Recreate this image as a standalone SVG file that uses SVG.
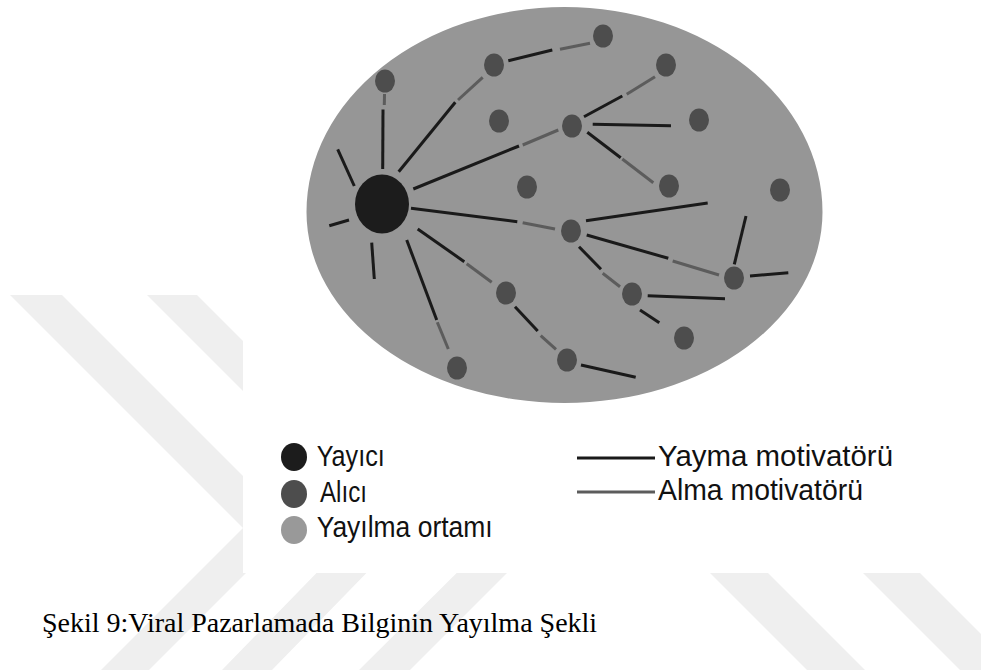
<svg xmlns="http://www.w3.org/2000/svg" width="981" height="670" viewBox="0 0 981 670">
  <style>
    .wm { fill: #efefef; }
    .medium { fill: #969696; }
    .sender { fill: #1c1c1c; }
    .receiver { fill: #4d4d4d; }
    .push { stroke: #1a1a1a; stroke-width: 3; stroke-linecap: butt; fill: none; }
    .pull { stroke: #5c5c5c; stroke-width: 3; stroke-linecap: butt; fill: none; }
    .lbl { font-family: "Liberation Sans", Arial, sans-serif; font-size: 29px; fill: #111; }
    .cap { font-family: "Liberation Serif", "Times New Roman", serif; font-size: 28px; fill: #000; }
  </style>

  <!-- page background and faint chevron watermark -->
  <rect x="0" y="0" width="981" height="670" fill="#ffffff"/>
  <g id="watermark">
    <polygon class="wm" points="10,295 62,295 293,526 149,670 101,670 243,528"/>
    <polygon class="wm" points="147,295 197,295 420,518 272,670 222,670 370,518"/>
    <polygon class="wm" points="283,295 333,295 559,521 410,670 359,670 509,521"/>
    <polygon class="wm" points="697,560 755,560 865,670 807,670"/>
    <polygon class="wm" points="850,560 907,560 1017,670 960,670"/>
  </g>
  <!-- white figure panel -->
  <rect x="243" y="0" width="738" height="573" fill="#ffffff"/>

  <!-- spreading medium -->
  <path id="medium" class="medium" d="M 306.5 212 A 258 205 0 0 1 564.5 7 A 258 205 0 0 1 822.5 212 A 258 191 0 0 1 564.5 403 A 258 191 0 0 1 306.5 212 Z"/>

  <!-- connectors: dark part = spreading motivator, grey part = receiving motivator -->
  <g id="connectors">
    <line class="push" x1="382.7" y1="169" x2="383" y2="109.5"/>
    <line class="pull" x1="384.3" y1="105" x2="384.5" y2="94"/>
    <line class="push" x1="398.7" y1="171.7" x2="455.3" y2="102.3"/>
    <line class="pull" x1="458" y1="100" x2="482.7" y2="77.3"/>
    <line class="push" x1="508.3" y1="60.7" x2="552.3" y2="50"/>
    <line class="pull" x1="560" y1="49.3" x2="590" y2="43.3"/>
    <line class="push" x1="413.3" y1="189" x2="519" y2="146"/>
    <line class="pull" x1="522.7" y1="145" x2="558.3" y2="130"/>
    <line class="push" x1="337.7" y1="149.3" x2="354.3" y2="186"/>
    <line class="push" x1="329.3" y1="225.7" x2="349" y2="220"/>
    <line class="push" x1="371.7" y1="242.7" x2="374.3" y2="279"/>
    <line class="push" x1="411" y1="208.3" x2="517.3" y2="221.7"/>
    <line class="pull" x1="522.7" y1="222.7" x2="555" y2="229"/>
    <line class="push" x1="417.7" y1="229" x2="464.3" y2="261.7"/>
    <line class="pull" x1="466.7" y1="263.7" x2="491.7" y2="282.3"/>
    <line class="push" x1="406.7" y1="240" x2="436.7" y2="320"/>
    <line class="pull" x1="437.3" y1="322.3" x2="448.3" y2="349"/>
    <line class="push" x1="515" y1="306.7" x2="537.7" y2="331"/>
    <line class="pull" x1="540.7" y1="335.7" x2="556" y2="349.3"/>
    <line class="push" x1="581" y1="365" x2="635.7" y2="377.3"/>
    <line class="push" x1="584" y1="116.7" x2="622.3" y2="96"/>
    <line class="pull" x1="626.7" y1="94.3" x2="655" y2="76.7"/>
    <line class="push" x1="592.7" y1="124.3" x2="671" y2="125.7"/>
    <line class="push" x1="587.3" y1="132.3" x2="620.7" y2="157.7"/>
    <line class="pull" x1="622.3" y1="159" x2="653.3" y2="182.7"/>
    <line class="push" x1="586" y1="220.7" x2="707.7" y2="203"/>
    <line class="push" x1="586.7" y1="235" x2="668.3" y2="258.3"/>
    <line class="pull" x1="672.7" y1="261" x2="719" y2="275"/>
    <line class="push" x1="746" y1="216" x2="734.3" y2="264.3"/>
    <line class="push" x1="750" y1="276" x2="788.3" y2="272.7"/>
    <line class="push" x1="579" y1="246.7" x2="601" y2="269.3"/>
    <line class="pull" x1="602.7" y1="273.3" x2="620" y2="286.7"/>
    <line class="push" x1="647.7" y1="295.7" x2="725" y2="298.7"/>
    <line class="push" x1="640" y1="310" x2="659.3" y2="322.7"/>
  </g>

  <!-- sender -->
  <g id="sender"><ellipse class="sender" cx="382" cy="204" rx="27" ry="29.5"/></g>

  <!-- receivers -->
  <g id="r1"><ellipse class="receiver" cx="385" cy="81" rx="10" ry="11.5"/></g>
  <g id="r2"><ellipse class="receiver" cx="494" cy="65" rx="10" ry="11.5"/></g>
  <g id="r3"><ellipse class="receiver" cx="603" cy="36" rx="10" ry="11.5"/></g>
  <g id="r4"><ellipse class="receiver" cx="666" cy="65" rx="10" ry="11.5"/></g>
  <g id="r5"><ellipse class="receiver" cx="499" cy="121" rx="10" ry="11.5"/></g>
  <g id="r6"><ellipse class="receiver" cx="572" cy="126" rx="10" ry="11.5"/></g>
  <g id="r7"><ellipse class="receiver" cx="699" cy="120" rx="10" ry="11.5"/></g>
  <g id="r8"><ellipse class="receiver" cx="527" cy="187" rx="10" ry="11.5"/></g>
  <g id="r9"><ellipse class="receiver" cx="669" cy="186" rx="10" ry="11.5"/></g>
  <g id="r10"><ellipse class="receiver" cx="780" cy="190" rx="10" ry="11.5"/></g>
  <g id="r11"><ellipse class="receiver" cx="571" cy="231" rx="10" ry="11.5"/></g>
  <g id="r12"><ellipse class="receiver" cx="506" cy="293" rx="10" ry="11.5"/></g>
  <g id="r13"><ellipse class="receiver" cx="632" cy="294" rx="10" ry="11.5"/></g>
  <g id="r14"><ellipse class="receiver" cx="734" cy="278" rx="10" ry="11.5"/></g>
  <g id="r15"><ellipse class="receiver" cx="684" cy="338" rx="10" ry="11.5"/></g>
  <g id="r16"><ellipse class="receiver" cx="457" cy="368" rx="10" ry="11.5"/></g>
  <g id="r17"><ellipse class="receiver" cx="567" cy="360" rx="10" ry="11.5"/></g>

  <!-- legend -->
  <g id="legend">
    <ellipse class="sender" cx="294" cy="457" rx="13" ry="14"/>
    <text class="lbl" x="316.7" y="466" textLength="68" lengthAdjust="spacingAndGlyphs">Yayıcı</text>
    <ellipse class="receiver" cx="294" cy="494" rx="13" ry="14"/>
    <text class="lbl" x="320" y="502" textLength="47" lengthAdjust="spacingAndGlyphs">Alıcı</text>
    <ellipse fill="#999999" cx="294" cy="530" rx="13" ry="14"/>
    <text class="lbl" x="316.7" y="537" textLength="176" lengthAdjust="spacingAndGlyphs">Yayılma ortamı</text>
    <line class="push" x1="577" y1="458" x2="655" y2="458"/>
    <text class="lbl" x="658" y="466" textLength="235" lengthAdjust="spacingAndGlyphs">Yayma motivatörü</text>
    <line class="pull" x1="577" y1="492" x2="655" y2="492"/>
    <text class="lbl" x="658" y="500" textLength="205" lengthAdjust="spacingAndGlyphs">Alma motivatörü</text>
  </g>

  <text class="cap" x="42" y="632">Şekil 9:Viral Pazarlamada Bilginin Yayılma Şekli</text>
</svg>
